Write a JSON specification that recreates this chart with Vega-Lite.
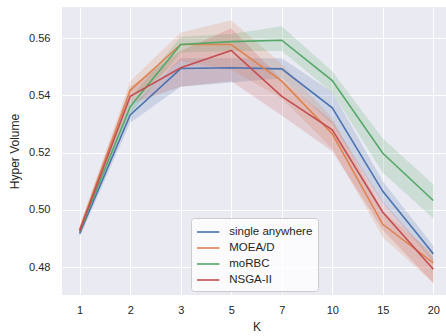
{
  "$schema": "https://vega.github.io/schema/vega-lite/v6.json",
  "autosize": "none",
  "padding": {"left": 62, "top": 7, "right": 0, "bottom": 41},
  "width": 389,
  "height": 288,
  "background": "white",
  "config": {
    "view": {"fill": "#EAEAF2", "stroke": null},
    "font": "Liberation Sans",
    "axis": {"domain": false, "ticks": false, "grid": true, "gridColor": "white", "gridWidth": 1,
             "labelFont": "Liberation Sans", "labelFontSize": 11, "labelColor": "#262626",
             "titleFont": "Liberation Sans", "titleFontSize": 12, "titleFontWeight": "normal", "titleColor": "#262626"},
    "legend": {"orient": "none", "legendX": 129, "legendY": 211, "fillColor": "rgba(255,255,255,0.8)",
               "strokeColor": "#CCCCCC", "cornerRadius": 3, "padding": 5,
               "labelFont": "Liberation Sans", "labelFontSize": 11.5, "labelColor": "#262626",
               "symbolType": "M-1.4,0H1.4", "symbolStrokeWidth": 1.6, "symbolSize": 256, "symbolOpacity": 1,
               "symbolOffset": 3.2, "rowPadding": 1, "labelOffset": 12}
  },
  "data": {"values": [
    {"s": "single anywhere", "K": 1, "m": 0.4918, "lo": 0.4905, "hi": 0.4930},
    {"s": "single anywhere", "K": 2, "m": 0.5332, "lo": 0.5305, "hi": 0.5358},
    {"s": "single anywhere", "K": 3, "m": 0.5494, "lo": 0.5430, "hi": 0.5530},
    {"s": "single anywhere", "K": 5, "m": 0.5497, "lo": 0.5445, "hi": 0.5530},
    {"s": "single anywhere", "K": 7, "m": 0.5493, "lo": 0.5460, "hi": 0.5530},
    {"s": "single anywhere", "K": 10, "m": 0.5357, "lo": 0.5300, "hi": 0.5412},
    {"s": "single anywhere", "K": 15, "m": 0.5065, "lo": 0.5025, "hi": 0.5100},
    {"s": "single anywhere", "K": 20, "m": 0.4847, "lo": 0.4820, "hi": 0.4875},
    {"s": "MOEA/D", "K": 1, "m": 0.4932, "lo": 0.4920, "hi": 0.4945},
    {"s": "MOEA/D", "K": 2, "m": 0.5418, "lo": 0.5390, "hi": 0.5450},
    {"s": "MOEA/D", "K": 3, "m": 0.5578, "lo": 0.5520, "hi": 0.5620},
    {"s": "MOEA/D", "K": 5, "m": 0.5578, "lo": 0.5490, "hi": 0.5663},
    {"s": "MOEA/D", "K": 7, "m": 0.5450, "lo": 0.5390, "hi": 0.5510},
    {"s": "MOEA/D", "K": 10, "m": 0.5266, "lo": 0.5215, "hi": 0.5320},
    {"s": "MOEA/D", "K": 15, "m": 0.4950, "lo": 0.4905, "hi": 0.4995},
    {"s": "MOEA/D", "K": 20, "m": 0.4815, "lo": 0.4745, "hi": 0.4850},
    {"s": "moRBC", "K": 1, "m": 0.4925, "lo": 0.4915, "hi": 0.4935},
    {"s": "moRBC", "K": 2, "m": 0.5361, "lo": 0.5335, "hi": 0.5390},
    {"s": "moRBC", "K": 3, "m": 0.5578, "lo": 0.5550, "hi": 0.5605},
    {"s": "moRBC", "K": 5, "m": 0.5588, "lo": 0.5555, "hi": 0.5615},
    {"s": "moRBC", "K": 7, "m": 0.5593, "lo": 0.5555, "hi": 0.5642},
    {"s": "moRBC", "K": 10, "m": 0.5452, "lo": 0.5410, "hi": 0.5485},
    {"s": "moRBC", "K": 15, "m": 0.5198, "lo": 0.5130, "hi": 0.5250},
    {"s": "moRBC", "K": 20, "m": 0.5033, "lo": 0.4970, "hi": 0.5090},
    {"s": "NSGA-II", "K": 1, "m": 0.4927, "lo": 0.4915, "hi": 0.4940},
    {"s": "NSGA-II", "K": 2, "m": 0.5397, "lo": 0.5370, "hi": 0.5430},
    {"s": "NSGA-II", "K": 3, "m": 0.5497, "lo": 0.5430, "hi": 0.5555},
    {"s": "NSGA-II", "K": 5, "m": 0.5557, "lo": 0.5450, "hi": 0.5635},
    {"s": "NSGA-II", "K": 7, "m": 0.5397, "lo": 0.5330, "hi": 0.5455},
    {"s": "NSGA-II", "K": 10, "m": 0.5280, "lo": 0.5205, "hi": 0.5310},
    {"s": "NSGA-II", "K": 15, "m": 0.4992, "lo": 0.4930, "hi": 0.5030},
    {"s": "NSGA-II", "K": 20, "m": 0.4793, "lo": 0.4745, "hi": 0.4830}
  ]},
  "encoding": {
    "x": {"field": "K", "type": "ordinal",
          "scale": {"type": "point", "domain": [1, 2, 3, 5, 7, 10, 15, 20], "padding": 0.35},
          "axis": {"labelAngle": 0, "labelPadding": 9, "title": "K", "titlePadding": 6}},
    "color": {"field": "s", "type": "nominal",
              "scale": {"domain": ["single anywhere", "MOEA/D", "moRBC", "NSGA-II"],
                        "range": ["#4C72B0", "#DD8452", "#55A868", "#C44E52"]},
              "legend": {"title": null}}
  },
  "layer": [
    {"mark": {"type": "area", "opacity": 0.2},
     "encoding": {
       "y": {"field": "lo", "type": "quantitative"},
       "y2": {"field": "hi"}
     }},
    {"mark": {"type": "line", "strokeWidth": 1.6},
     "encoding": {
       "y": {"field": "m", "type": "quantitative",
             "scale": {"domain": [0.4703, 0.5709], "nice": false, "zero": false},
             "axis": {"values": [0.48, 0.50, 0.52, 0.54, 0.56], "format": ".2f", "labelPadding": 12,
                      "title": "Hyper Volume", "titlePadding": 7}}
     }}
  ]
}
